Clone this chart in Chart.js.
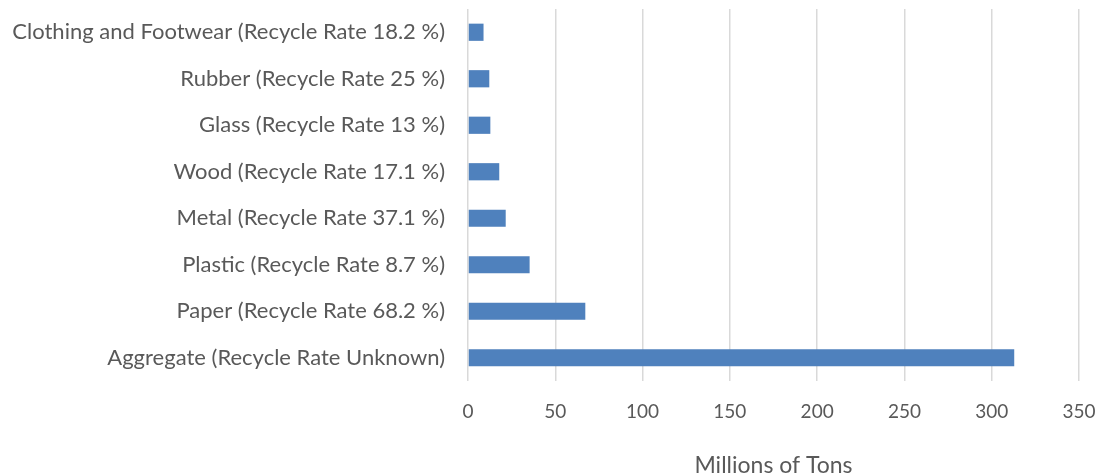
<!DOCTYPE html>
<html>
<head>
<meta charset="utf-8">
<script src="https://cdn.jsdelivr.net/npm/chart.js@4/dist/chart.umd.min.js"></script>
<style>
  html, body { margin: 0; padding: 0; background: #fff; }
  #wrap { width: 1101px; height: 475px; }
</style>
</head>
<body>
<div id="wrap"><canvas id="waste-chart"></canvas></div>
<script>
// 数据（从上到下）
const categories = [
  'Clothing and Footwear (Recycle Rate 18.2 %)',
  'Rubber (Recycle Rate 25 %)',
  'Glass (Recycle Rate 13 %)',
  'Wood (Recycle Rate 17.1 %)',
  'Metal (Recycle Rate 37.1 %)',
  'Plastic (Recycle Rate 8.7 %)',
  'Paper (Recycle Rate 68.2 %)',
  'Aggregate (Recycle Rate Unknown)'
];
const tons = [8.9, 12.2, 12.8, 17.9, 21.6, 35.3, 67.2, 312.9];
const xTicks = [0, 50, 100, 150, 200, 250, 300, 350];

const textColor = '#595959';
const fontFamily = 'Lato, "Open Sans", sans-serif';

const ctx = document.getElementById('waste-chart').getContext('2d');
const wasteChart = new Chart(ctx, {
  type: 'bar',
  data: {
    labels: categories,
    datasets: [{
      label: 'Millions of Tons',
      data: tons,
      backgroundColor: '#4f81bd',
      barPercentage: 1,
      categoryPercentage: 0.37
    }]
  },
  options: {
    indexAxis: 'y',
    responsive: true,
    maintainAspectRatio: false,
    animation: false,
    layout: { padding: { top: 9, right: 22, left: 0, bottom: 0 } },
    plugins: {
      legend: { display: false },
      tooltip: { enabled: false }
    },
    scales: {
      x: {
        min: 0,
        max: 350,
        afterBuildTicks: axis => { axis.ticks = xTicks.map(v => ({ value: v })); },
        afterFit: axis => {
          axis.height = 94;
          axis.paddingLeft = 0; axis.paddingRight = 0;
          axis.paddingTop = 0; axis.paddingBottom = 0;
        },
        grid: { color: '#d9d9d9', lineWidth: 1.5, drawTicks: false },
        border: { display: false },
        ticks: {
          color: textColor,
          padding: 19,
          font: { family: fontFamily, size: 19 }
        },
        title: {
          display: true,
          text: 'Millions of Tons',
          color: textColor,
          padding: { top: 0, bottom: -4 },
          font: { family: fontFamily, size: 23 }
        }
      },
      y: {
        afterFit: axis => {
          axis.width = 468;
          axis.paddingLeft = 0; axis.paddingRight = 0;
          axis.paddingTop = 0; axis.paddingBottom = 0;
        },
        grid: { display: false, drawTicks: false },
        border: { display: false },
        ticks: {
          color: textColor,
          padding: 23,
          font: { family: fontFamily, size: 22 }
        }
      }
    }
  }
});
</script>
</body>
</html>
